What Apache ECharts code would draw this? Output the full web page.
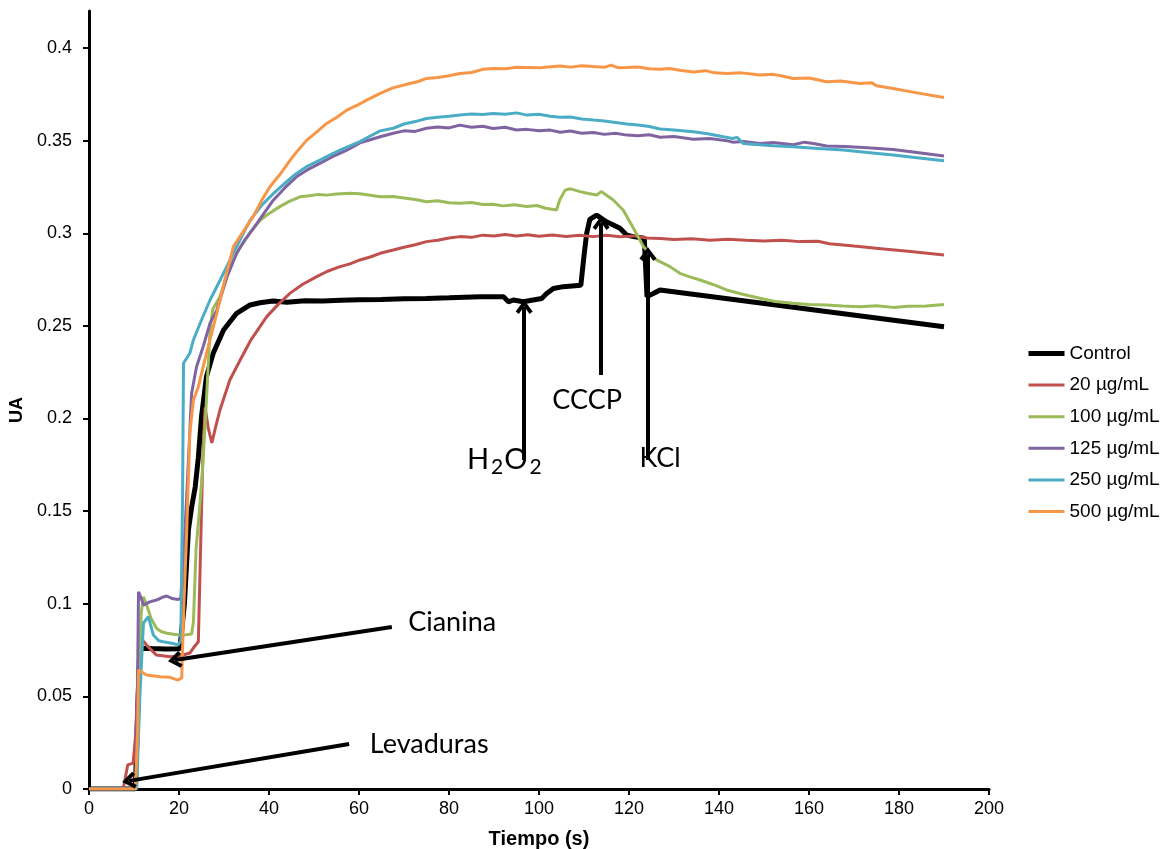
<!DOCTYPE html>
<html>
<head>
<meta charset="utf-8">
<script src="https://cdn.jsdelivr.net/npm/echarts@6/dist/echarts.min.js"></script>
<style>
  html, body { margin: 0; padding: 0; background: #fff; }
  #chart { width: 1164px; height: 849px; }
</style>
</head>
<body>
<div id="chart"></div>
<script>
// Absorbance (UA) against time (s): [time, value] pairs per treatment
const control = [[0,0],[10.3,0],[10.8,0.040],[11.3,0.076],[14,0.0758],[17,0.0756],[20.2,0.0757],[21.2,0.10],[22.1,0.140],[22.8,0.152],[23.6,0.163],[24.3,0.179],[25,0.201],[26.1,0.2226],[27.6,0.2352],[29.9,0.2478],[32.8,0.2568],[35.8,0.2613],[38,0.2625],[40.9,0.2634],[44,0.2628],[48,0.2636],[52,0.2634],[56,0.2638],[60,0.2641],[65,0.2643],[70,0.2646],[75,0.2648],[80,0.2652],[86.9,0.2658],[92.1,0.2658],[93.2,0.263],[94.3,0.264],[96.5,0.263],[100.6,0.2648],[101.7,0.2675],[103.2,0.2702],[105.4,0.2712],[109.3,0.272],[110.1,0.290],[110.6,0.300],[111.3,0.3075],[112.8,0.3098],[115,0.3062],[116.5,0.3045],[118,0.3027],[119.5,0.299],[121,0.2982],[123.4,0.2973],[124.0,0.2658],[125.4,0.2675],[126.9,0.2694],[190,0.2496]];

const c20 = [[0,0],[7.6,0],[8.6,0.013],[9.8,0.014],[10.4,0.03],[11.2,0.084],[12,0.080],[12.8,0.0777],[15,0.0723],[18,0.0714],[20.2,0.0718],[22.4,0.0734],[23.3,0.0765],[24.3,0.0795],[24.7,0.12],[25.3,0.18],[25.8,0.206],[26.5,0.195],[27.3,0.1868],[28.2,0.196],[29.1,0.2046],[31.3,0.2208],[33.6,0.2316],[36,0.2425],[39.5,0.255],[42,0.2615],[44.7,0.2677],[47.5,0.2725],[50.6,0.2766],[53,0.2795],[55.8,0.282],[58,0.2835],[60.2,0.2856],[62.5,0.2872],[64.7,0.2892],[67.6,0.291],[70,0.2925],[72.5,0.2938],[75,0.2955],[77.5,0.2962],[80,0.2975],[82.4,0.2982],[85,0.2978],[87.5,0.299],[90,0.2985],[92.5,0.2993],[95,0.2985],[97.5,0.2992],[100,0.2984],[103,0.2991],[106,0.2983],[109,0.299],[112,0.2982],[115,0.2989],[118,0.2981],[121,0.2986],[124,0.2975],[127,0.2972],[130,0.2966],[134,0.2971],[138,0.2963],[142,0.2968],[146,0.2962],[150,0.2958],[154,0.2962],[158,0.2955],[162,0.2957],[164.5,0.2944],[170,0.2931],[176,0.2917],[182,0.2903],[190,0.2883]];

const c100 = [[0,0],[10.4,0],[11,0.05],[11.6,0.095],[12.1,0.1038],[12.8,0.0993],[13.8,0.092],[15,0.0868],[16,0.085],[17.3,0.0841],[18.8,0.0835],[20.2,0.0831],[21.5,0.0833],[22.8,0.0837],[23.2,0.09],[23.8,0.13],[24.5,0.149],[25.3,0.175],[26.1,0.21],[26.9,0.2478],[27.5,0.259],[29.1,0.2658],[31.3,0.282],[33.5,0.292],[36,0.301],[38,0.307],[40.2,0.311],[42.4,0.3144],[44.5,0.3172],[46.9,0.3197],[49,0.3203],[51,0.321],[52.8,0.3206],[55,0.3212],[58,0.3216],[60.2,0.3213],[62.5,0.3205],[64.7,0.3197],[67.6,0.3199],[70,0.319],[72.5,0.3182],[75,0.317],[77.5,0.3176],[80,0.3165],[82.4,0.3162],[85,0.3166],[87.5,0.3155],[89.8,0.3157],[92,0.3148],[94.5,0.3154],[97.3,0.3145],[99.5,0.315],[101.5,0.3135],[103.9,0.3126],[104.6,0.318],[105.8,0.3233],[107,0.324],[109.1,0.3225],[111,0.3215],[112.8,0.3207],[113.9,0.3225],[115,0.3205],[116.5,0.318],[118.7,0.3126],[121,0.3027],[123.2,0.2928],[126.1,0.2856],[129.1,0.282],[131.3,0.2784],[133.5,0.2765],[135.8,0.2748],[138.5,0.2725],[141.7,0.2694],[145,0.2672],[149.1,0.2649],[152.5,0.2632],[156.5,0.2622],[160,0.2615],[163.9,0.2613],[167.5,0.2607],[171.3,0.2604],[175,0.2609],[178.7,0.26],[182,0.2606],[186,0.2608],[190,0.2616]];

const c125 = [[0,0],[10.4,0],[10.8,0.06],[11,0.1065],[11.6,0.103],[12.1,0.0993],[13.5,0.101],[15,0.102],[16.3,0.1035],[17.3,0.1042],[18.5,0.1028],[19.8,0.1023],[20.4,0.103],[21.3,0.138],[22.1,0.1776],[22.8,0.2136],[23.9,0.228],[25.4,0.239],[26.9,0.2515],[28.4,0.2585],[30.6,0.276],[32.8,0.2892],[34.5,0.296],[36.5,0.3025],[38.8,0.3105],[41,0.318],[43.5,0.3245],[46.1,0.3305],[48.5,0.3342],[51.3,0.3377],[54,0.3412],[57.3,0.3449],[60.2,0.3488],[62.5,0.3505],[64.7,0.3521],[67.6,0.354],[70,0.3553],[72.5,0.355],[75,0.3567],[77.5,0.3574],[80,0.3569],[82.4,0.3584],[85,0.3572],[87.5,0.3578],[89.8,0.3566],[92.5,0.3572],[95,0.3558],[97.3,0.3561],[100,0.3553],[102.5,0.3557],[104.7,0.3545],[107,0.3552],[109.5,0.354],[112.1,0.3544],[114.5,0.3534],[117,0.354],[119.5,0.353],[122,0.3526],[124.5,0.3532],[126.9,0.3518],[130,0.3522],[134.3,0.3508],[138,0.3512],[141.7,0.35],[143,0.3492],[145.5,0.3496],[149.1,0.3485],[152,0.349],[156.5,0.3478],[159,0.3492],[161,0.3485],[163.9,0.3471],[168,0.3468],[173,0.3462],[178.7,0.3452],[184,0.3436],[190,0.3417]];

const c250 = [[0,0],[10.6,0],[11.3,0.05],[12.1,0.0896],[13.2,0.093],[14.3,0.0831],[15.5,0.08],[16.5,0.0795],[18.7,0.0786],[19.8,0.0777],[20.4,0.08],[20.8,0.16],[21,0.2298],[22.4,0.2352],[23.2,0.2424],[25,0.2532],[26.9,0.264],[29.1,0.2745],[30.6,0.282],[32.8,0.2928],[35.8,0.3071],[38.5,0.3155],[41,0.3215],[43.5,0.327],[46.1,0.3323],[48.5,0.3362],[51.3,0.3395],[53.5,0.3422],[55.8,0.3449],[58,0.3472],[60.2,0.3495],[62.5,0.3525],[64.7,0.3553],[67.6,0.3567],[70,0.359],[72.5,0.3603],[75,0.362],[77.5,0.3626],[80,0.3632],[82.4,0.3638],[85,0.3644],[87.5,0.3641],[89.8,0.3647],[92.5,0.3643],[95,0.365],[97.3,0.3638],[100,0.3643],[102.5,0.3632],[104.7,0.3626],[107,0.3628],[109.5,0.3617],[112.1,0.3611],[114.5,0.3606],[117,0.3598],[119.5,0.359],[122,0.3584],[124.5,0.3576],[126.9,0.3563],[130,0.3558],[134.3,0.3548],[137.5,0.3537],[141,0.3521],[143,0.3512],[144,0.3518],[145.4,0.3485],[149,0.3478],[152,0.3472],[156.5,0.3467],[162,0.3458],[167.6,0.3449],[173,0.3436],[178.7,0.3422],[184,0.3408],[190,0.3392]];

const c500 = [[0,0],[10.3,0],[10.8,0.03],[11,0.0642],[12.8,0.0615],[15.8,0.0606],[18,0.0603],[19.8,0.0588],[20.6,0.06],[21.1,0.10],[21.7,0.138],[22.4,0.192],[23.2,0.21],[24.3,0.2172],[26.1,0.2352],[28.4,0.2568],[30.2,0.275],[32.1,0.2928],[34.3,0.301],[36.5,0.309],[38.3,0.3175],[40.2,0.3251],[42.5,0.332],[44.7,0.3395],[46.5,0.345],[48.4,0.3503],[50.5,0.3545],[52.8,0.3593],[55,0.3625],[57.3,0.3665],[59.5,0.369],[61.7,0.3719],[64.7,0.3755],[67.5,0.3785],[71.3,0.3809],[73,0.3818],[75,0.3836],[77.5,0.3841],[80,0.385],[82.4,0.3863],[85,0.3868],[87.5,0.3885],[89.8,0.389],[92.5,0.3888],[95,0.3896],[97.3,0.3895],[100,0.3893],[102,0.3898],[104.7,0.3903],[107,0.3897],[109.5,0.3905],[112.1,0.39],[114.5,0.3896],[116,0.3908],[117.5,0.3894],[119.5,0.3895],[122,0.3898],[124.5,0.3888],[126.9,0.3885],[129,0.389],[131.3,0.388],[134.3,0.3871],[137,0.3878],[139,0.3866],[141.7,0.3863],[145,0.3866],[149.1,0.3854],[152,0.3858],[154,0.3849],[156.5,0.3836],[160,0.3838],[163.9,0.3818],[167,0.3822],[171.3,0.3809],[174,0.3812],[175,0.3796],[178.7,0.3782],[184,0.3758],[190,0.3733]];

const seriesNames = ['Control', '20 µg/mL', '100 µg/mL', '125 µg/mL', '250 µg/mL', '500 µg/mL'];
const seriesData = [control, c20, c100, c125, c250, c500];
const seriesColors = ['#000000', '#C0504D', '#9BBB59', '#8064A2', '#4BACC6', '#F79646'];
const seriesWidths = [5, 3, 3, 3, 3, 3];

const yTicks = [0, 0.05, 0.1, 0.15, 0.2, 0.25, 0.3, 0.35, 0.4];

// Arrows: [tail, head] in data units (time, UA)
const arrows = [
  [[57.8, 0.0243], [8.9, 0.0044]],   // Levaduras
  [[67.3, 0.0875], [19.1, 0.0696]],  // Cianina
  [[96.7, 0.1776], [96.7, 0.2602]],  // H2O2
  [[113.8, 0.2235], [113.8, 0.3055]],// CCCP
  [[124.2, 0.1776], [124.2, 0.2888]] // KCl
];
// Annotation labels: [text, time, UA]
const notes = [
  ['Levaduras', 75.6, 0.0243],
  ['Cianina', 80.7, 0.0902],
  ['{m|H}{sub|2}{m|O}{sub|2}', 92.4, 0.1780],
  ['CCCP', 110.7, 0.2100],
  ['KCl', 126.9, 0.1785]
];

const chevron = 'path://M8,0 L16,11 L13,13.5 L8,6 L3,13.5 L0,11 Z';
const axisFont = 'Liberation Sans, Arial, sans-serif';
const noteFont = 'Lato, sans-serif';

const series = seriesNames.map((name, i) => ({
  name: name,
  type: 'line',
  data: seriesData[i],
  symbol: 'none',
  showSymbol: false,
  smooth: false,
  color: seriesColors[i],
  lineStyle: { color: seriesColors[i], width: seriesWidths[i] },
  z: 2
}));

series.push({
  name: 'notes',
  type: 'line',
  data: [],
  silent: true,
  z: 5,
  markLine: {
    silent: true,
    symbol: ['none', chevron],
    symbolSize: [17, 14],
    lineStyle: { color: '#000', width: 4, type: 'solid' },
    label: { show: false },
    emphasis: { disabled: true },
    data: arrows.map(a => [{ coord: a[0] }, { coord: a[1] }])
  },
  markPoint: {
    silent: true,
    symbol: 'circle',
    symbolSize: 0,
    label: {
      show: true,
      position: 'inside',
      color: '#000',
      fontFamily: noteFont,
      fontSize: 27,
      rich: {
        m: { fontFamily: noteFont, fontSize: 29 },
        sub: { fontFamily: noteFont, fontSize: 21, verticalAlign: 'bottom', padding: [15, 1, 0, 2] }
      }
    },
    data: notes.map(n => ({ coord: [n[1], n[2]], value: n[0], label: { formatter: n[0] } }))
  }
});

const chart = echarts.init(document.getElementById('chart'), null, { renderer: 'canvas' });
chart.setOption({
  animation: false,
  backgroundColor: '#fff',
  grid: { left: 89, right: 175, top: 11, bottom: 60, containLabel: false, outerBoundsMode: 'none' },
  legend: {
    data: seriesNames.map((n, i) => ({ name: n, lineStyle: { width: seriesWidths[i] } })),
    orient: 'vertical',
    left: 1021,
    top: 339,
    itemWidth: 36,
    itemHeight: 14,
    itemGap: 12.6,
    itemStyle: { opacity: 0 },
    textStyle: { fontSize: 19, color: '#000', fontFamily: axisFont }
  },
  xAxis: {
    type: 'value',
    min: 0,
    max: 200,
    interval: 20,
    name: 'Tiempo (s)',
    nameLocation: 'middle',
    nameGap: 40,
    nameTextStyle: { fontSize: 20, fontWeight: 'bold', color: '#000', fontFamily: axisFont },
    axisLine: { lineStyle: { color: '#000', width: 3 } },
    axisTick: { show: true, length: 6, lineStyle: { color: '#000', width: 2 } },
    axisLabel: { fontSize: 18, color: '#000', margin: 11, fontFamily: axisFont },
    splitLine: { show: false }
  },
  yAxis: {
    type: 'value',
    min: 0,
    max: 0.42,
    interval: 0.05,
    name: 'UA',
    nameLocation: 'middle',
    nameGap: 62,
    nameRotate: 90,
    nameTextStyle: { fontSize: 18, fontWeight: 'bold', color: '#000', fontFamily: axisFont, padding: [0, 20, 0, 0] },
    axisLine: { show: true, lineStyle: { color: '#000', width: 3 } },
    axisTick: { show: true, length: 6, lineStyle: { color: '#000', width: 2 }, customValues: yTicks },
    axisLabel: {
      fontSize: 18, color: '#000', margin: 17, fontFamily: axisFont,
      customValues: yTicks,
      formatter: v => String(parseFloat(Number(v).toFixed(2)))
    },
    splitLine: { show: false }
  },
  series: series
});
</script>
</body>
</html>
